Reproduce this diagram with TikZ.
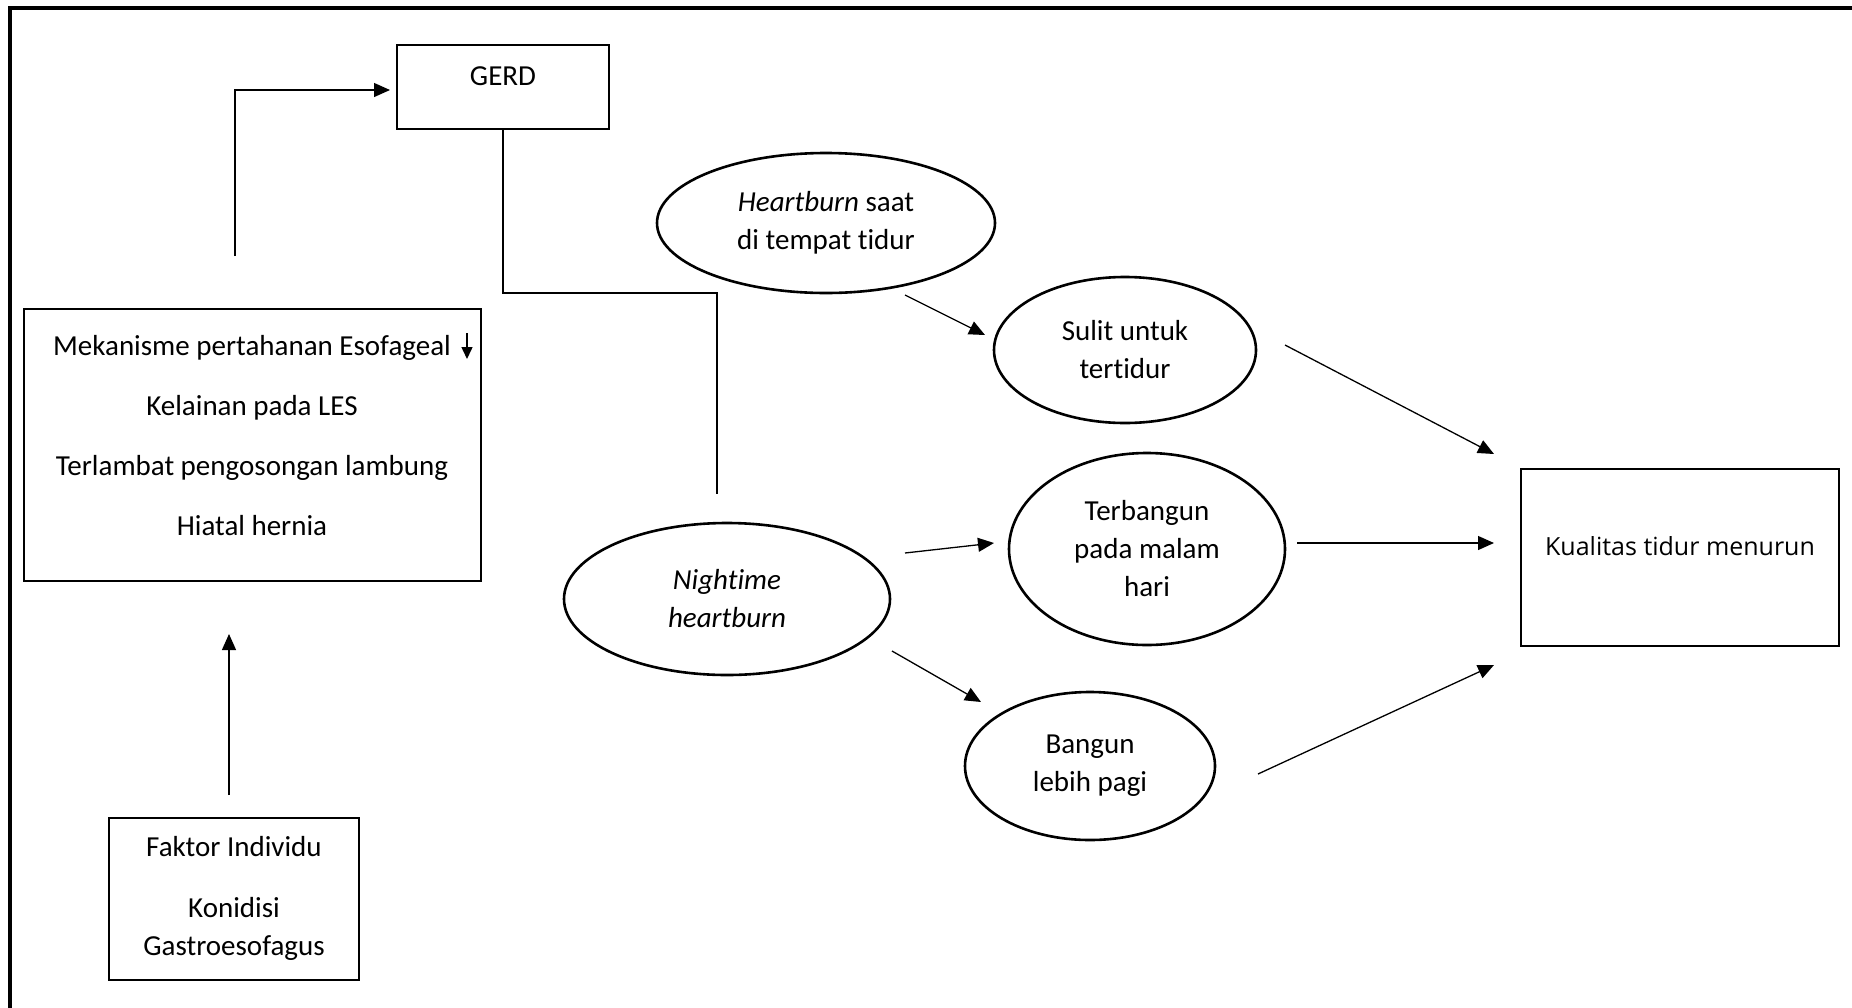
\documentclass[tikz,border=0pt]{standalone}
\usepackage{fontspec}
\setmainfont{Carlito}[Ligatures=NoCommon]
\newfontfamily\osans{Open Sans}
\usetikzlibrary{arrows.meta,shapes.geometric}
\begin{document}
\begin{tikzpicture}[x=1pt,y=-1pt,
  box/.style={draw, line width=2.7pt, rectangle, inner sep=0pt},
  ell/.style={draw, line width=2.6pt, ellipse, inner sep=0pt, align=center, font=\fontsize{29}{38}\selectfont},
  txt/.style={align=center, inner sep=0pt, font=\fontsize{29}{38}\selectfont},
  arr/.style={line width=1.3pt, -{Triangle[length=16pt,width=14pt]}},
  conn/.style={line width=1.3pt}]
\useasboundingbox (0,0) rectangle (1852,1007);
% outer frame (top and left edges only visible)
\coordinate (fbl) at (10,1010);
\coordinate (ftl) at (10,8);
\coordinate (ftr) at (1855,8);
\draw[line width=3.2pt] (fbl) -- (ftl) -- (ftr);

% boxes
\node[box, minimum width=212pt, minimum height=84pt] (gerd) at (503,87) {};
\node[txt] (gerdt) at (503,76) {GERD};

\node[box, minimum width=457pt, minimum height=272pt] (lbox) at (252.5,445) {};
\node[txt] (lboxt) at (252,436) {Mekanisme pertahanan Esofageal\\[22pt]Kelainan pada LES\\[22pt]Terlambat pengosongan lambung\\[22pt]Hiatal hernia};

\node[box, minimum width=250pt, minimum height=162pt] (fak) at (234,899) {};
\node[txt] (fakt) at (234,898) {Faktor Individu\\[23pt]Konidisi\\Gastroesofagus};

\node[box, minimum width=318pt, minimum height=177pt] (kual) at (1680,557.5) {};
\node[inner sep=0pt, font=\osans\fontsize{25}{30}\selectfont] (kualt) at (1680,546) {Kualitas tidur menurun};

% ellipses
\node[ell, minimum width=338pt, minimum height=140pt] (hb) at (826,223) {\textit{Heartburn} saat\\di tempat tidur};
\node[ell, minimum width=262pt, minimum height=146pt] (sul) at (1125,350) {Sulit untuk\\tertidur};
\node[ell, minimum width=276pt, minimum height=192pt] (ter) at (1147,549) {Terbangun\\pada malam\\hari};
\node[ell, minimum width=326pt, minimum height=152pt] (nt) at (727,599) {\textit{Nightime}\\\textit{heartburn}};
\node[ell, minimum width=250pt, minimum height=148pt] (ban) at (1090,766) {Bangun\\lebih pagi};

% small down arrow after "Esofageal"
\coordinate (da1) at (467,333);
\coordinate (da2) at (467,359);
\draw[line width=1.5pt, -{Triangle[length=12pt,width=11pt]}] (da1) -- (da2);

% connectors
\coordinate (lbtop) at (235,256);
\coordinate (gin) at (390,90);
\draw[arr] (lbtop) |- (gin);

\coordinate (turn) at (717,293);
\coordinate (ntop) at (717,494);
\draw[conn] (gerd.south) |- (turn) -- (ntop);

\coordinate (fup1) at (229,795);
\coordinate (fup2) at (229,634);
\draw[arr] (fup1) -- (fup2);

\coordinate (a1s) at (905,295); \coordinate (a1e) at (985,335);
\draw[arr] (a1s) -- (a1e);
\coordinate (a2s) at (905,553); \coordinate (a2e) at (994,543);
\draw[arr] (a2s) -- (a2e);
\coordinate (a3s) at (892,651); \coordinate (a3e) at (981,702);
\draw[arr] (a3s) -- (a3e);
\coordinate (a4s) at (1285,345); \coordinate (a4e) at (1494,454);
\draw[arr] (a4s) -- (a4e);
\coordinate (a5s) at (1297,543); \coordinate (a5e) at (1494,543);
\draw[arr] (a5s) -- (a5e);
\coordinate (a6s) at (1258,774); \coordinate (a6e) at (1494,665);
\draw[arr] (a6s) -- (a6e);
\end{tikzpicture}
\end{document}
